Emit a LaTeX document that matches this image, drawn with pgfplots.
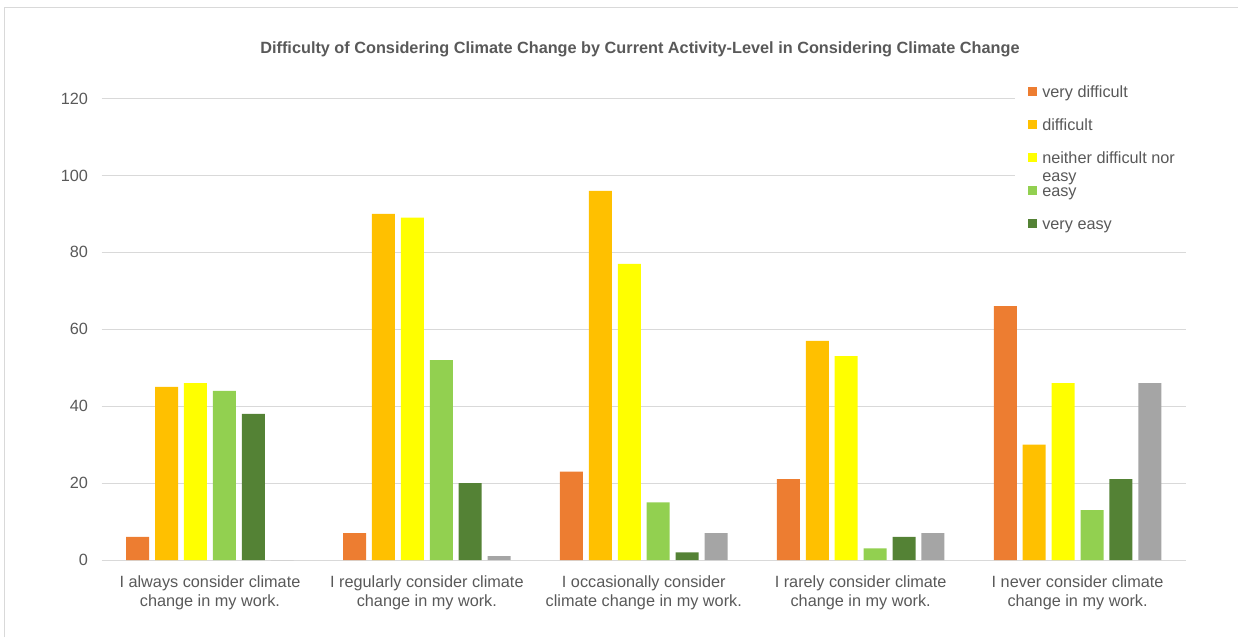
\documentclass[border=0pt]{standalone}
\usepackage{fontspec}
\setmainfont{Liberation Sans}
\usepackage{pgfplots}
\pgfplotsset{compat=1.18}

\definecolor{vdiff}{HTML}{ED7D31}
\definecolor{diff}{HTML}{FFC000}
\definecolor{neith}{HTML}{FFFF00}
\definecolor{easyc}{HTML}{92D050}
\definecolor{veasy}{HTML}{548235}
\definecolor{other}{HTML}{A5A5A5}
\definecolor{txt}{HTML}{595959}
\definecolor{gridc}{HTML}{D9D9D9}

\newcommand{\lblfont}{\fontsize{12.2}{14.25}\selectfont}

\begin{document}
\begin{tikzpicture}
\useasboundingbox (0,0) rectangle (928.5pt,477.75pt);
% chart frame (only left and top edges are visible)
\draw[gridc, line width=0.75pt] (3.375pt,0pt) -- (3.375pt,471.75pt) -- (928.5pt,471.75pt);
% title
\node[anchor=base, text=txt, font=\fontsize{12.2}{14}\selectfont\bfseries, inner sep=0pt]
  at (480pt,437.75pt) {Difficulty of Considering Climate Change by Current Activity-Level in Considering Climate Change};

\begin{axis}[
  at={(76.125pt,57.75pt)}, anchor=south west,
  scale only axis,
  width=813.4pt, height=346.1pt,
  ybar,
  bar width=0.106,
  xmin=-0.5, xmax=4.5,
  ymin=0, ymax=120,
  ytick={0,20,...,120},
  xtick={0,1,2,3,4},
  xticklabels={
    {I always consider climate\\change in my work.},
    {I regularly consider climate\\change in my work.},
    {I occasionally consider\\climate change in my work.},
    {I rarely consider climate\\change in my work.},
    {I never consider climate\\change in my work.}},
  axis line style={draw=none},
  tick style={draw=none},
  ymajorgrids=true,
  grid style={gridc, line width=0.75pt},
  /pgf/number format/assume math mode=true,
  tick label style={text=txt, font=\lblfont},
  xticklabel style={align=center, anchor=north, inner sep=0pt, yshift=-7.25pt},
  yticklabel style={anchor=east, inner sep=0pt, xshift=-10pt},
  legend cell align=left,
  legend image code/.code={
    \fill[#1] (0pt,-2.1pt) rectangle (6.75pt,4.65pt);},
  legend style={
    at={(0.8423,1.0467)}, anchor=north west,
    fill=white, draw=none,
    inner xsep=9.75pt, inner ysep=6pt,
    row sep=12.75pt, column sep=3.75pt,
    font=\fontsize{12.2}{13.5}\selectfont, text=txt,
    nodes={inner sep=0pt, text height=9pt, text depth=3pt}},
]
% very difficult
\addplot[fill=vdiff, draw=none, bar shift=-0.3333] coordinates {
  (0,6) (1,7) (2,23) (3,21) (4,66)};
% difficult
\addplot[fill=diff, draw=none, bar shift=-0.2] coordinates {
  (0,45) (1,90) (2,96) (3,57) (4,30)};
% neither difficult nor easy
\addplot[fill=neith, draw=none, bar shift=-0.0667] coordinates {
  (0,46) (1,89) (2,77) (3,53) (4,46)};
% easy
\addplot[fill=easyc, draw=none, bar shift=0.0667] coordinates {
  (0,44) (1,52) (2,15) (3,3) (4,13)};
% very easy
\addplot[fill=veasy, draw=none, bar shift=0.2] coordinates {
  (0,38) (1,20) (2,2) (3,6) (4,21)};
% sixth series, not in the legend
\addplot[fill=other, draw=none, bar shift=0.3333] coordinates {
  (0,0) (1,1) (2,7) (3,7) (4,46)};
\legend{very difficult, difficult, {\parbox[t]{12em}{neither difficult nor\\easy}}, easy, very easy}
\end{axis}
\end{tikzpicture}
\end{document}
